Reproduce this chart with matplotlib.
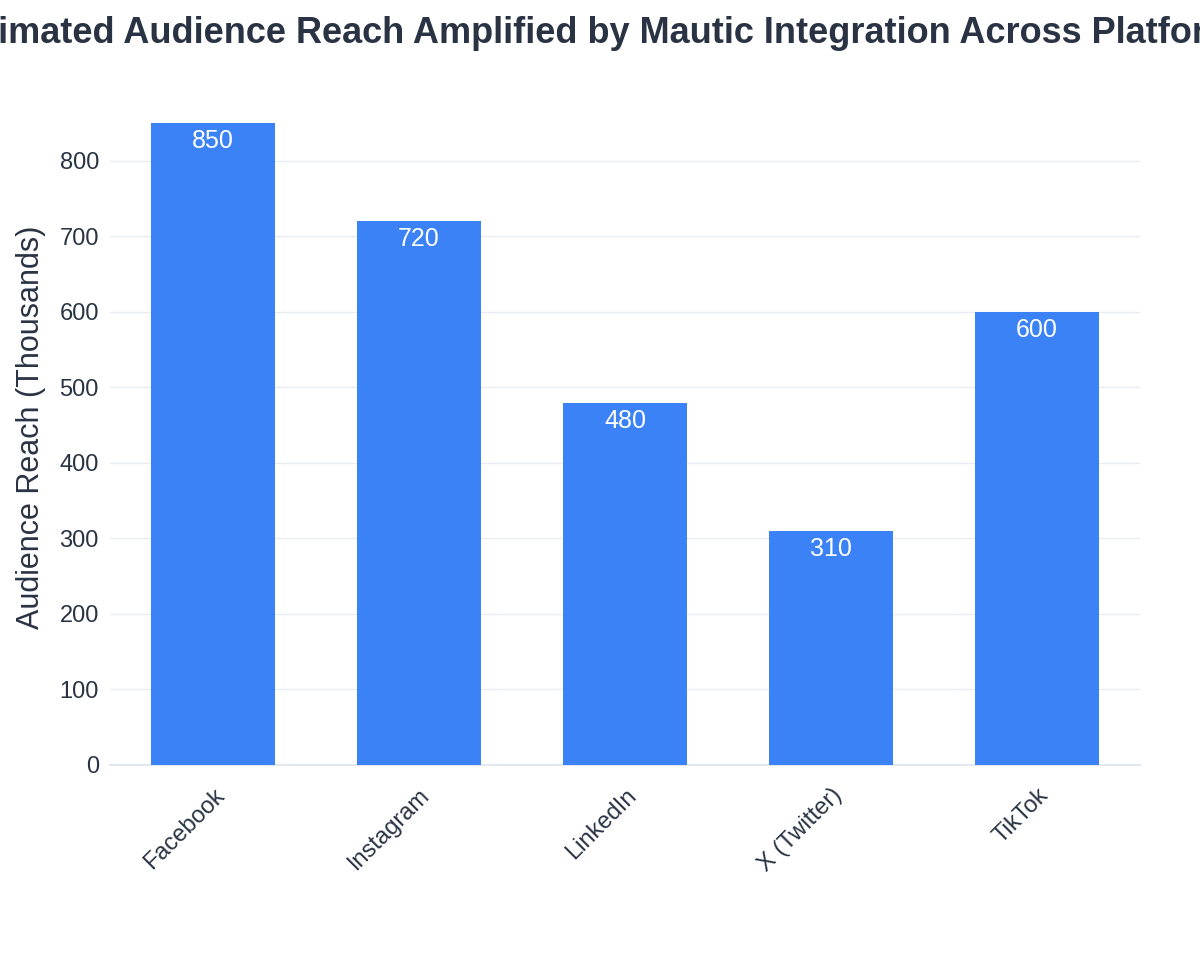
import matplotlib
matplotlib.use('Agg')
import matplotlib.pyplot as plt

# Chart data
platforms = ['Facebook', 'Instagram', 'LinkedIn', 'X (Twitter)', 'TikTok']
reach = [850, 720, 480, 310, 600]
y_ticks = [0, 100, 200, 300, 400, 500, 600, 700, 800]

plt.rcParams['font.family'] = 'Liberation Sans'

fig = plt.figure(figsize=(12, 9.75), dpi=100)
ax = fig.add_axes([0.0917, 0.2154, 0.8583, 0.6923])

x = range(len(platforms))
bars = ax.bar(x, reach, width=0.6, color='#3B82F6', zorder=3)

# value labels inside the top of each bar
for xi, v in zip(x, reach):
    ax.text(xi, v - 8, f'{v}', ha='center', va='top', color='white', fontsize=18, zorder=4)

ax.set_xlim(-0.5, len(platforms) - 0.5)
ax.set_ylim(0, 894)
ax.set_yticks(y_ticks)
ax.set_xticks(list(x))
ax.set_xticklabels(platforms, rotation=45, ha='right', rotation_mode='anchor')
ax.tick_params(axis='both', length=0, labelsize=17, colors='#2a3343', pad=8)
ax.tick_params(axis='x', pad=14)
ax.grid(axis='y', color='#E8EBF0', linewidth=1, zorder=0)
for s in ['top', 'right', 'left']:
    ax.spines[s].set_visible(False)
ax.spines['bottom'].set_color('#E2E8F0')
ax.spines['bottom'].set_linewidth(1.5)

ax.set_ylabel('Audience Reach (Thousands)', fontsize=22, color='#2a3343', labelpad=10)

fig.text(0.5, 0.966, 'Estimated Audience Reach Amplified by Mautic Integration Across Platforms',
         ha='center', va='center', fontsize=26, fontweight='bold', color='#2a3343')

fig.savefig('out.png', dpi=100, facecolor='white')
